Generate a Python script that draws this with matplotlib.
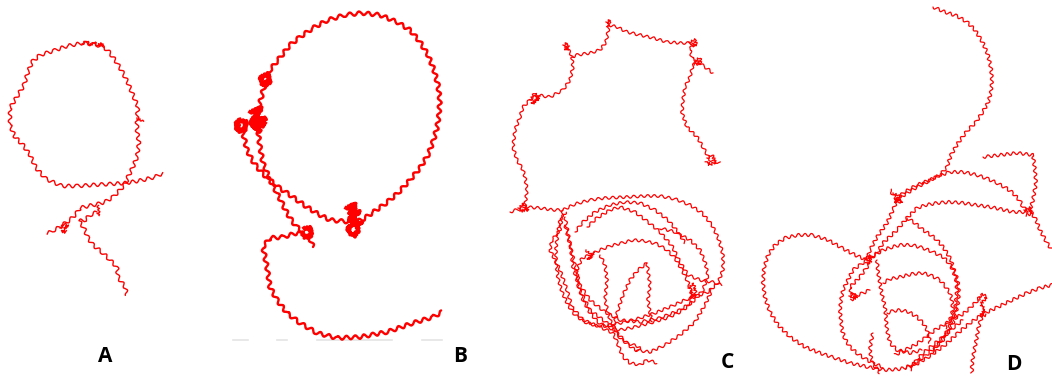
import matplotlib
matplotlib.use('Agg')
import matplotlib.pyplot as plt

# траектории, координаты в пикселях картинки (y вниз)
a_loop = [(126,183),(128,177),(133,167),(137,157),(139,143),(137,130),(137,118),(138,107),(133,95),
          (128,83),(123,73),(117,63),(110,53),(104,47),(97,45),(83,43),(67,46),(53,51),(40,55),(32,62),
          (28,72),(24,85),(18,95),(10,108),(10,125),(15,137),(23,145),(30,155),(36,168),(46,179),(62,186),
          (78,186),(92,185),(110,184),(126,183),(143,180),(155,177),(163,173)]
a_cross = [(126,183),(120,190),(113,197),(105,202),(98,204),(88,206),(80,208),(76,214),(70,220),
           (64,224),(58,228),(52,231),(47,234)]
a_tail = [(97,212),(90,215),(85,220),(79,221),(84,228),(88,238),(93,245),(103,253),(110,260),
          (117,267),(118,277),(125,287),(127,295)]
a_knots = [[(82,44),(86,41),(90,45),(94,42),(98,46),(101,43),(104,47)],
           [(137,118),(143,122)],
           [(98,205),(98,215)],
           [(60,228),(64,224),(68,226),(62,231),(66,232)]]

b_loop = [(257,125),(258,110),(262,95),(265,83),(270,70),(278,60),(290,45),(300,37),(313,28),(328,20),
          (345,15),(362,13),(380,15),(397,22),(410,30),(420,42),(428,55),(434,70),(438,85),(440,100),
          (439,115),(437,128),(433,142),(428,155),(420,168),(410,180),(398,193),(385,204),(372,213),
          (362,220),(353,222),(340,221),(330,220),(318,214),(307,207),(297,200),(287,193),(278,187),
          (270,180),(263,163),(260,147),(258,130),(257,125)]
b_strand = [(240,125),(243,133),(247,150),(252,160),(257,167),(263,174),(270,180),(277,193),
            (282,203),(287,213),(292,221),(297,227),(303,233)]
b_tail = [(313,247),(310,238),(303,233),(297,233),(283,237),(270,238),(263,247),(265,257),(267,267),
          (270,287),(277,300),(287,313),(300,323),(317,333),(337,338),(360,337),(387,332),(413,323),
          (433,317),(442,312)]
b_knots = [[(250,112),(262,108),(252,120),(266,118),(254,128),(264,126),(256,114),(260,132),(250,122),(265,124)],
           [(240,120),(246,122),(245,130),(238,131),(235,125),(240,120)],
           [(262,76),(268,74),(270,82),(264,86),(260,81),(262,76)],
           [(346,208),(356,204),(350,214),(360,212),(348,220),(362,224),(352,218),(354,208)],
           [(349,226),(356,224),(359,230),(354,236),(348,232),(349,226)],
           [(304,228),(310,228),(312,235),(306,238),(302,233)]]
b_gray = [(233,248),(277,287),(317,392),(422,442)]

c_top = [(510,212),(525,207),(527,190),(525,177),(523,170),(517,160),(513,147),(515,130),(520,117),
         (523,107),(530,100),(537,95),(550,97),(563,90),(570,80),(573,67),(572,57),(577,55),(590,53),
         (600,50),(606,42),(608,32),(609,25),(617,27),(627,32),(640,35),(653,38),(667,42),(680,43),
         (693,43),(690,50),(692,58),(698,62),(693,65),(690,77),(685,87),(683,100),(682,113),(687,127),
         (697,137),(703,147),(710,160),(720,163)]
c_spurs = [[(698,62),(705,67),(713,73)],
           [(565,47),(570,52),(572,57)]]
c_knots = [[(530,100),(535,93),(538,99),(532,104),(540,96)],
           [(563,45),(567,43),(566,50),(570,47)],
           [(606,22),(610,20),(608,27)],
           [(689,42),(695,40),(697,45),(691,46)],
           [(695,60),(700,58),(701,64),(694,64)],
           [(707,158),(712,155),(716,162),(710,165),(706,161)],
           [(518,208),(524,204),(528,210),(520,211)],
           [(586,250),(592,256),(588,260),(594,252)],
           [(688,288),(694,284),(696,294),(690,298),(692,290)]]
c_loops = [
    [(525,207),(540,208),(553,210),(563,210),(575,204),(590,200),(605,198),(627,197),(645,196),(660,196),
     (675,199),(690,205),(702,213),(712,225),(719,240),(723,255),(723,270),(718,283),(708,292),(697,296),
     (685,300),(672,306),(655,313),(640,318),(625,322),(610,325),(597,326),(585,322),(575,315),(568,305),
     (562,292),(558,278),(556,262),(556,248),(558,232),(560,220),(566,212)],
    [(575,232),(583,222),(595,212),(610,205),(625,202),(640,203),(655,210),(668,220),(678,232),(685,243)],
    [(590,255),(600,250),(610,246),(622,243),(633,240),(645,241),(657,244),(667,250),(675,258),(682,270),
     (688,282),(692,295),(690,305),(680,312),(667,318),(650,323),(635,327),(620,330),(608,328),(598,322),
     (590,313),(583,300),(578,285),(577,270),(582,258),(590,255)],
    [(565,225),(570,245),(575,265),(580,285),(590,300),(605,312),(620,320),(640,322),(660,318),(680,310),
     (695,300),(703,290),(708,275),(705,262),(700,250),(690,240),(675,232),(660,228)],
    [(563,210),(560,230),(552,240),(550,250),(560,270),(567,290),(572,307),(583,320),(600,327),(613,333),
     (617,342),(620,350),(623,357),(630,363),(640,365),(647,360),(657,363)],
    [(565,217),(570,243),(573,267),(580,290),(590,310),(607,323),(627,343),(640,347),(637,352)],
    [(647,263),(650,285),(648,300),(650,313),(652,322)],
    [(647,263),(638,270),(630,280),(623,295),(618,310),(613,327)],
    [(587,227),(597,218),(610,210),(620,207),(635,212),(648,222),(660,232),(672,246),(680,262),(688,275),
     (700,280),(712,282),(722,285)],
    [(600,255),(605,265),(607,280),(605,300),(610,320),(620,338),(635,350),(650,352),(665,345),(680,335),
     (695,322),(705,305),(712,290)]]

d_top = [(933,7),(945,12),(957,16),(967,22),(975,30),(983,43),(988,55),(991,68),(992,80),(991,92),
         (988,103),(982,113),(976,122),(967,131),(958,143),(951,155),(947,167),(940,175),(930,180),
         (917,185),(903,193),(897,200),(892,193),(890,190)]
d_paths = [
    [(897,200),(907,193),(917,187),(927,182),(938,176),(950,172),(963,172),(977,175),(988,179),(997,183),
     (1006,188),(1013,193),(1020,201),(1023,207),(1028,212)],
    [(983,157),(1000,155),(1017,153),(1033,155),(1035,170),(1036,183),(1033,200),(1030,210),(1036,220),
     (1040,230),(1047,243),(1052,250)],
    [(1028,212),(1013,212),(1000,209),(990,207),(976,205),(963,203),(950,202),(937,203),(926,205),
     (917,208),(907,218),(897,230),(883,243),(877,253),(867,260)],
    [(897,200),(893,210),(887,223),(877,237),(870,250),(867,260)],
    [(867,260),(855,255),(842,248),(828,240),(812,235),(798,235),(785,238),(775,245),(768,255),(764,268),
     (763,283),(765,298),(770,312),(778,325),(790,337),(805,347),(820,353),(835,358),(850,363),(868,367),
     (885,370),(900,369),(915,365),(930,356),(945,345),(958,333),(970,323),(983,314),(998,307),(1012,300),
     (1027,293),(1040,288),(1052,285)],
    [(907,218),(915,223),(923,230),(931,235),(937,240),(943,247),(947,253),(951,260),(953,267),(956,275),
     (958,283),(959,293),(958,303),(956,313),(953,323),(948,332),(943,340),(935,348),(925,356),(915,363),
     (905,368)],
    [(867,262),(875,255),(883,250),(892,247),(900,245),(912,245),(923,248),(933,252),(943,257),(949,263),
     (953,270),(956,280),(957,290),(956,300),(955,310),(952,320),(948,330),(940,342),(932,352)],
    [(883,283),(890,279),(900,277),(912,274),(923,273),(932,276),(940,280),(945,286),(950,293),(952,301),
     (953,310),(950,320),(945,328)],
    [(887,313),(893,311),(900,310),(909,312),(917,317),(923,323),(927,330),(929,337),(930,343)],
    [(877,260),(878,272),(880,283),(882,295),(885,307),(886,318),(887,330),(890,343),(897,350),(910,353),
     (922,350)],
    [(870,263),(865,270),(860,277),(855,282),(850,287),(852,297),(858,295),(863,293),(870,290)],
    [(867,260),(860,265),(853,270),(848,280),(843,290),(841,300),(840,310),(841,320),(842,330),(845,339),
     (850,347),(858,354),(867,360),(875,364),(883,367)],
    [(873,333),(871,342),(870,350),(871,357),(873,363),(876,368),(880,373)],
    [(980,297),(976,302),(970,308),(963,314),(955,318),(945,324),(935,330),(925,338),(915,345),(905,350),
     (895,355)],
    [(983,314),(980,322),(978,330),(977,337),(975,347),(973,357),(972,366),(972,373)],
    [(963,320),(953,328),(943,337),(933,345),(923,353),(916,361),(910,370)]]
d_knots = [[(893,193),(899,196),(896,203),(902,201),(894,199)],
           [(1024,210),(1030,208),(1032,214),(1026,215)],
           [(978,300),(983,294),(987,297),(981,304),(985,310),(980,316),(986,315)],
           [(849,296),(853,293),(857,298),(851,300)],
           [(864,258),(870,256),(871,262),(866,264)]]

labels = ['A', 'B', 'C', 'D']
label_x = [105, 460, 727, 1014]
label_y = [357, 357, 362, 365]

red = '#ff0000'

fig = plt.figure(figsize=(10.52, 3.77), dpi=100)
ax = fig.add_axes([0, 0, 1, 1])
ax.set_xlim(0, 1052)
ax.set_ylim(377, 0)
ax.axis('off')


def track(pts, lw, sk):
    xs = [p[0] for p in pts]
    ys = [p[1] for p in pts]
    ln, = ax.plot(xs, ys, color=red, lw=lw, solid_joinstyle='round', solid_capstyle='round')
    ln.set_sketch_params(*sk)
    return ln


def knot(pts, lw):
    xs = [p[0] for p in pts]
    ys = [p[1] for p in pts]
    ln, = ax.plot(xs, ys, color=red, lw=lw, solid_joinstyle='round')
    ln.set_sketch_params(1.5, 3, 2)


# серые полоски внизу панели B
for x0, x1 in b_gray:
    ax.plot([x0, x1], [340, 340], color='#e4e4e4', lw=1.2)

# A
for p in [a_loop, a_cross, a_tail]:
    track(p, 1.0, (1.8, 8, 1.15))
for k in a_knots:
    knot(k, 1.0)

# B
for p in [b_loop, b_strand, b_tail]:
    track(p, 1.7, (1.9, 9, 1.15))
for k in b_knots:
    knot(k, 2.6)

# C
for p in [c_top] + c_spurs + c_loops:
    track(p, 0.9, (1.4, 7, 1.2))
for k in c_knots:
    knot(k, 0.9)

# D
for p in [d_top] + d_paths:
    track(p, 0.9, (1.6, 6.5, 1.15))
for k in d_knots:
    knot(k, 0.9)

for t, x, y in zip(labels, label_x, label_y):
    ax.text(x, y, t, fontsize=15, fontweight='bold', family='Open Sans', ha='center', va='center')

fig.savefig('out.png', dpi=100, facecolor='white')
